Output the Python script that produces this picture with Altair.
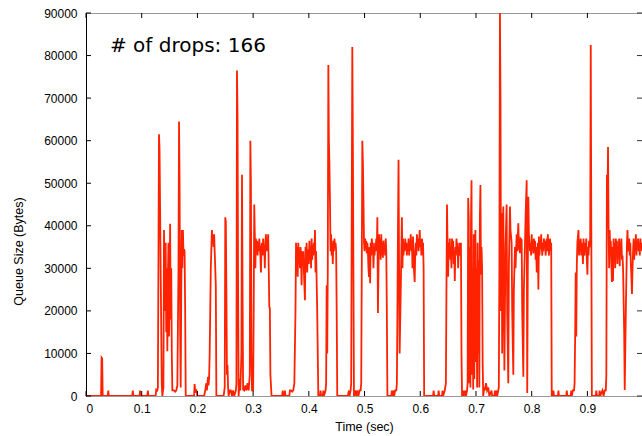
import altair as alt
import pandas as pd

# (time in s, queue size in bytes), in bursts
seg_a = [(0, 0), (0.027, 0), (0.028, 9000), (0.029, 8800), (0.030, 0), (0.039, 0), (0.040, 1300), (0.041, 0),
         (0.083, 0), (0.084, 1300), (0.085, 0), (0.096, 0), (0.097, 1300), (0.098, 0), (0.110, 0), (0.111, 1300),
         (0.112, 0), (0.125, 0), (0.126, 1500), (0.128, 1300)]
seg_b = [(0.129, 2000), (0.130, 30000), (0.131, 61500), (0.132, 58000), (0.134, 30000), (0.136, 3000), (0.137, 0),
         (0.139, 2000), (0.140, 39000), (0.141, 30000), (0.142, 20000), (0.143, 36000), (0.144, 15000),
         (0.145, 30000), (0.146, 10500), (0.147, 28000), (0.148, 36000), (0.149, 14000), (0.150, 25000),
         (0.151, 40500), (0.152, 18000), (0.153, 30000), (0.154, 10000), (0.155, 1300), (0.156, 1300),
         (0.158, 1300), (0.160, 1000), (0.162, 1300), (0.164, 2500), (0.166, 30000), (0.167, 64500),
         (0.168, 50000), (0.169, 15000), (0.170, 2000), (0.171, 25000), (0.172, 39000), (0.173, 30000),
         (0.174, 39000), (0.175, 33000), (0.176, 34500), (0.177, 34000), (0.178, 20000), (0.179, 0)]
seg_c = [(0.194, 0), (0.195, 2800), (0.196, 1000), (0.198, 1300), (0.200, 0), (0.212, 0), (0.214, 1300),
         (0.216, 3000), (0.217, 1300), (0.219, 4500), (0.220, 2500), (0.221, 4500), (0.222, 10000),
         (0.224, 30000), (0.226, 39000), (0.227, 36500), (0.228, 38000), (0.229, 35000), (0.230, 38000),
         (0.231, 34000), (0.232, 30000), (0.233, 26000), (0.234, 0)]
seg_d = [(0.247, 0), (0.249, 2000), (0.250, 42000), (0.251, 41000), (0.252, 25000), (0.253, 5000), (0.254, 7300),
         (0.255, 2000), (0.256, 0), (0.258, 1300), (0.260, 1300), (0.262, 0), (0.264, 1300), (0.266, 0),
         (0.269, 1300), (0.270, 3000), (0.271, 76500), (0.272, 66000), (0.273, 25000), (0.274, 0), (0.276, 4000),
         (0.277, 1300), (0.279, 10000), (0.280, 52000), (0.281, 25000), (0.282, 1500), (0.284, 1300),
         (0.286, 2500), (0.288, 1300), (0.290, 3000), (0.292, 1300), (0.294, 5000), (0.295, 60000),
         (0.296, 50000), (0.297, 10000), (0.298, 1300), (0.300, 1300), (0.301, 20000), (0.302, 45000),
         (0.303, 38000), (0.304, 30000), (0.305, 37000), (0.306, 35000), (0.307, 36500), (0.308, 33000),
         (0.309, 36000), (0.310, 34000), (0.311, 37000), (0.312, 35000), (0.313, 33000), (0.314, 29000),
         (0.315, 35000), (0.316, 36000), (0.317, 33000), (0.318, 37000), (0.319, 34000), (0.320, 35500),
         (0.321, 30000), (0.322, 36000), (0.323, 38000), (0.324, 34000), (0.325, 36000), (0.326, 35000),
         (0.327, 38000), (0.328, 30000), (0.329, 21000), (0.330, 20700), (0.331, 5000), (0.333, 0)]
seg_e = [(0.352, 0), (0.353, 1300), (0.354, 0), (0.356, 0), (0.357, 1300), (0.358, 0), (0.365, 0), (0.366, 1300),
         (0.368, 1300), (0.370, 1000), (0.372, 1300), (0.374, 3000), (0.376, 20000), (0.377, 36000),
         (0.378, 31000), (0.379, 35000), (0.380, 28000), (0.381, 36000), (0.382, 33000), (0.383, 34000),
         (0.384, 30000), (0.385, 35000), (0.386, 33000), (0.387, 26000), (0.388, 34000), (0.389, 31000),
         (0.390, 34000), (0.391, 30000), (0.392, 26000), (0.393, 22500), (0.394, 35000), (0.395, 32000),
         (0.396, 36000), (0.397, 29000), (0.398, 33000), (0.399, 34500), (0.400, 31000), (0.401, 36500),
         (0.402, 32000), (0.403, 35000), (0.404, 30000), (0.405, 37000), (0.406, 32000), (0.407, 35500),
         (0.408, 33000), (0.409, 36000), (0.410, 34000), (0.411, 39000), (0.412, 29000), (0.413, 34000),
         (0.414, 27000), (0.415, 20000), (0.416, 10000), (0.417, 0)]
seg_f = [(0.420, 0), (0.421, 1300), (0.422, 0), (0.425, 0), (0.426, 1300), (0.427, 0), (0.430, 1300),
         (0.431, 3000), (0.432, 26000), (0.433, 10000), (0.434, 30000), (0.435, 77800), (0.436, 60000),
         (0.437, 54000), (0.438, 45000), (0.439, 34000), (0.440, 38000), (0.441, 33000), (0.442, 36000),
         (0.443, 31000), (0.444, 36500), (0.445, 34000), (0.446, 37000), (0.447, 35000), (0.448, 36000),
         (0.449, 34000), (0.450, 20000), (0.451, 0)]
seg_g = [(0.470, 0), (0.472, 1300), (0.473, 0), (0.475, 1300), (0.476, 3000), (0.478, 82000), (0.479, 60000),
         (0.480, 30000), (0.481, 0), (0.483, 1300), (0.485, 0), (0.487, 1300), (0.489, 0), (0.491, 1300),
         (0.493, 1300), (0.494, 3000), (0.495, 30000), (0.496, 60000), (0.497, 55000), (0.498, 46500),
         (0.499, 36000), (0.500, 34000), (0.501, 37000), (0.502, 35000), (0.503, 36500), (0.504, 33500),
         (0.505, 36000), (0.506, 34000), (0.507, 30000), (0.508, 28000), (0.509, 35000), (0.510, 26500),
         (0.511, 36000), (0.512, 33000), (0.513, 37000), (0.514, 35000), (0.515, 36000), (0.516, 30000),
         (0.517, 35000), (0.518, 33000), (0.519, 36000), (0.520, 34000), (0.521, 37000), (0.522, 35000),
         (0.523, 42000), (0.524, 19500), (0.525, 30000), (0.526, 38000), (0.527, 34000), (0.528, 37000),
         (0.529, 32000), (0.530, 38000), (0.531, 33000), (0.532, 36000), (0.533, 32500), (0.534, 36500),
         (0.535, 34000), (0.536, 35500), (0.537, 33000), (0.538, 37000), (0.539, 34000), (0.540, 20000),
         (0.541, 0)]
seg_h = [(0.548, 0), (0.549, 1300), (0.550, 0), (0.552, 1300), (0.553, 0), (0.555, 1300), (0.557, 1300),
         (0.558, 3000), (0.559, 20000), (0.560, 40000), (0.561, 55500), (0.562, 30000), (0.563, 10000),
         (0.565, 25000), (0.567, 42000), (0.568, 30000), (0.569, 37000), (0.570, 33000), (0.571, 36000),
         (0.572, 34000), (0.573, 37000), (0.574, 35000), (0.575, 36000), (0.576, 33000), (0.577, 35500),
         (0.578, 34500), (0.579, 37000), (0.580, 33000), (0.581, 36000), (0.582, 35000), (0.583, 38000),
         (0.584, 34000), (0.585, 36500), (0.586, 30000), (0.587, 37500), (0.588, 32000), (0.589, 29000),
         (0.590, 26800), (0.591, 34000), (0.592, 36000), (0.593, 33000), (0.594, 38000), (0.595, 35000),
         (0.596, 37000), (0.597, 34000), (0.598, 36000), (0.599, 39000), (0.600, 35000), (0.601, 36000),
         (0.602, 33000), (0.603, 37000), (0.604, 35000), (0.605, 36000), (0.606, 30000), (0.607, 0)]
seg_i = [(0.623, 0), (0.624, 1300), (0.625, 0), (0.632, 0), (0.633, 1300), (0.634, 0), (0.639, 0), (0.640, 1300),
         (0.641, 0), (0.644, 1300), (0.646, 3000), (0.647, 25000), (0.648, 45000), (0.649, 35000), (0.650, 28000),
         (0.651, 36000), (0.652, 34000), (0.653, 37000), (0.654, 32000), (0.655, 35000), (0.656, 30000),
         (0.657, 37000), (0.658, 34000), (0.659, 36500), (0.660, 31000), (0.661, 34000), (0.662, 27000),
         (0.663, 35000), (0.664, 33000), (0.665, 37000), (0.666, 34000), (0.667, 36000), (0.668, 30000),
         (0.669, 35000), (0.670, 33000), (0.671, 36000), (0.672, 34000), (0.673, 36000), (0.674, 10000),
         (0.675, 0), (0.677, 1300), (0.678, 0), (0.681, 1300), (0.682, 0), (0.684, 1300), (0.685, 3000),
         (0.686, 46500), (0.687, 42000), (0.688, 3000), (0.689, 35000), (0.690, 2000), (0.691, 40000),
         (0.692, 50700), (0.693, 5000), (0.694, 30000), (0.695, 1500), (0.696, 38000), (0.697, 4000),
         (0.698, 33000), (0.699, 39000), (0.700, 8000), (0.701, 30000), (0.702, 2000), (0.703, 36000),
         (0.704, 10000), (0.705, 32000), (0.706, 2000), (0.707, 42000), (0.708, 49600), (0.709, 28500),
         (0.710, 35000), (0.711, 30000), (0.712, 8000), (0.713, 0), (0.715, 2000), (0.716, 1300), (0.718, 3000),
         (0.720, 1300), (0.722, 2000), (0.724, 0), (0.728, 1300), (0.729, 0)]
seg_j = [(0.733, 0), (0.734, 1300), (0.735, 0), (0.737, 1300), (0.738, 0), (0.740, 1300), (0.741, 2000),
         (0.742, 30000), (0.743, 90000), (0.744, 70000), (0.745, 20000), (0.746, 43000), (0.747, 10000),
         (0.748, 30000), (0.749, 44500), (0.750, 25000), (0.751, 6000), (0.753, 35000), (0.755, 45000),
         (0.756, 20000), (0.758, 3000), (0.759, 30000), (0.761, 44500), (0.762, 39000), (0.764, 36000),
         (0.765, 20000), (0.767, 5000), (0.768, 25000), (0.770, 35000), (0.771, 30000), (0.773, 38000),
         (0.774, 34000), (0.776, 40600), (0.777, 35000), (0.779, 33600), (0.780, 37000), (0.782, 36700),
         (0.783, 20000), (0.785, 4500), (0.786, 25000), (0.788, 36000), (0.789, 42000), (0.791, 50700),
         (0.792, 700), (0.793, 30000), (0.794, 46800), (0.795, 38000), (0.797, 34000), (0.798, 36000),
         (0.799, 33000), (0.800, 38000), (0.801, 35000), (0.802, 36000), (0.803, 33500), (0.804, 37000),
         (0.805, 34000), (0.806, 36500), (0.807, 32000), (0.808, 35000), (0.809, 29000), (0.810, 33000),
         (0.811, 36000), (0.812, 25000), (0.813, 37500), (0.814, 33000), (0.815, 36000), (0.816, 34500),
         (0.817, 38000), (0.818, 35000), (0.819, 33000), (0.820, 36000), (0.821, 34000), (0.822, 37000),
         (0.823, 35000), (0.824, 36500), (0.825, 33000), (0.826, 35000), (0.827, 37000), (0.828, 34000),
         (0.829, 38000), (0.830, 35000), (0.831, 33000), (0.832, 36000), (0.833, 37000), (0.834, 34000),
         (0.835, 36000), (0.836, 0)]
seg_k = [(0.838, 0), (0.839, 1300), (0.840, 0), (0.847, 0), (0.848, 1300), (0.849, 0), (0.862, 0), (0.863, 1300),
         (0.864, 0), (0.870, 0), (0.871, 1300), (0.872, 0), (0.874, 1300), (0.876, 1300), (0.877, 3000),
         (0.878, 14000), (0.879, 29000), (0.880, 14000), (0.881, 31000), (0.882, 36000), (0.884, 39000),
         (0.885, 33000), (0.886, 36500), (0.887, 34000), (0.888, 37000), (0.889, 33000), (0.890, 36000),
         (0.891, 34500), (0.892, 31000), (0.893, 37000), (0.894, 35000), (0.895, 33000), (0.896, 36000),
         (0.897, 34000), (0.898, 37000), (0.899, 32000), (0.900, 28500), (0.901, 35000), (0.902, 33000),
         (0.903, 36500), (0.904, 35000), (0.905, 37000), (0.906, 82500), (0.907, 40000), (0.908, 0)]
seg_l = [(0.915, 0), (0.916, 1300), (0.917, 0), (0.921, 0), (0.922, 1300), (0.923, 0), (0.927, 1300), (0.929, 0),
         (0.931, 1300), (0.933, 1300), (0.934, 5000), (0.935, 52000), (0.936, 45000), (0.937, 58500),
         (0.938, 40000), (0.939, 30000), (0.940, 39000), (0.941, 34000), (0.942, 36500), (0.943, 31000),
         (0.944, 26800), (0.945, 35000), (0.946, 27000), (0.947, 37000), (0.948, 33000), (0.949, 36000),
         (0.950, 30000), (0.951, 37000), (0.952, 34000), (0.953, 36500), (0.954, 31000), (0.955, 35000),
         (0.956, 33500), (0.957, 37000), (0.958, 30500), (0.959, 36000), (0.960, 34000), (0.961, 37000),
         (0.962, 32000), (0.963, 33000), (0.964, 30000), (0.966, 15000), (0.967, 1400), (0.969, 20000),
         (0.971, 36000), (0.972, 39000), (0.973, 34000), (0.974, 35000), (0.975, 37000), (0.976, 33000),
         (0.977, 36000), (0.978, 31000), (0.979, 28000), (0.980, 24000), (0.981, 30000), (0.982, 34000),
         (0.983, 37000), (0.984, 32000), (0.985, 36500), (0.986, 34000), (0.987, 38000), (0.988, 33000),
         (0.989, 36000), (0.990, 35000), (0.991, 37000), (0.992, 34000), (0.993, 36000), (0.994, 33000),
         (0.995, 37000), (0.996, 35000), (0.997, 36000), (0.998, 34000)]

segments = [seg_a, seg_b, seg_c, seg_d, seg_e, seg_f, seg_g, seg_h, seg_i, seg_j, seg_k, seg_l]
time_s = [p[0] for s in segments for p in s]
queue_bytes = [p[1] for s in segments for p in s]

x_ticks = [0, 0.1, 0.2, 0.3, 0.4, 0.5, 0.6, 0.7, 0.8, 0.9]
y_ticks = [0, 10000, 20000, 30000, 40000, 50000, 60000, 70000, 80000, 90000]
annotation = ["# of drops: 166"]

W, H = 556, 383
LABEL_FONT = "Liberation Sans"
TEXT_FONT = "DejaVu Sans"

df = pd.DataFrame({"t": time_s, "q": queue_bytes})
xs = alt.Scale(domain=[0, 0.998], nice=False, zero=False)
ys = alt.Scale(domain=[0, 90000], nice=False)

x_axis = alt.Axis(
    values=x_ticks, format="~g", ticks=False, domain=False, grid=False,
    labelPadding=7, labelFont=LABEL_FONT, labelFontSize=12, labelColor="#000",
    title="Time (sec)", titleFont=LABEL_FONT, titleFontSize=12.5, titleFontWeight="normal",
    titleColor="#000", titleX=W / 2, titleY=34, titleBaseline="alphabetic", titleAlign="center")
y_axis = alt.Axis(
    values=y_ticks, format="d", ticks=False, domain=True, domainColor="#000", domainWidth=1,
    grid=False, labelPadding=9, labelFont=LABEL_FONT, labelFontSize=12, labelColor="#000",
    title="Queue Size (Bytes)", titleFont=LABEL_FONT, titleFontSize=12.5, titleFontWeight="normal",
    titleColor="#000", titleX=-68, titleY=238, titleAngle=270, titleAlign="center",
    titleBaseline="middle")

line = alt.Chart(df).mark_line(color="#ff2200", strokeWidth=1.8, clip=True).encode(
    x=alt.X("t:Q", scale=xs, axis=x_axis),
    y=alt.Y("q:Q", scale=ys, axis=y_axis),
)

xt = pd.DataFrame({"t": x_ticks})
yt = pd.DataFrame({"q": y_ticks})
tick_bottom = alt.Chart(xt).mark_rule(color="#000", strokeWidth=1).encode(
    x=alt.X("t:Q", scale=xs, axis=x_axis), y=alt.value(H), y2=alt.value(H - 5))
tick_top = alt.Chart(xt).mark_rule(color="#000", strokeWidth=1).encode(
    x=alt.X("t:Q", scale=xs, axis=x_axis), y=alt.value(0), y2=alt.value(5))
tick_left = alt.Chart(yt).mark_rule(color="#000", strokeWidth=1).encode(
    y=alt.Y("q:Q", scale=ys, axis=y_axis), x=alt.value(0), x2=alt.value(5))
tick_right = alt.Chart(yt).mark_rule(color="#333", strokeWidth=1).encode(
    y=alt.Y("q:Q", scale=ys, axis=y_axis), x=alt.value(W), x2=alt.value(W - 5))

label = alt.Chart(pd.DataFrame({"text": annotation})).mark_text(
    align="left", baseline="alphabetic", font=TEXT_FONT, fontSize=20, color="#000"
).encode(x=alt.value(24), y=alt.value(39), text="text:N")

chart = alt.layer(line, tick_bottom, tick_top, tick_left, tick_right, label).properties(
    width=W, height=H,
    padding={"left": 86, "top": 13, "right": 0, "bottom": 40},
    autosize=alt.AutoSizeParams(type="none"),
    background="white",
).configure_view(stroke="#999", strokeWidth=1)

chart.save("out.html", embed_options={"renderer": "svg", "actions": False})
